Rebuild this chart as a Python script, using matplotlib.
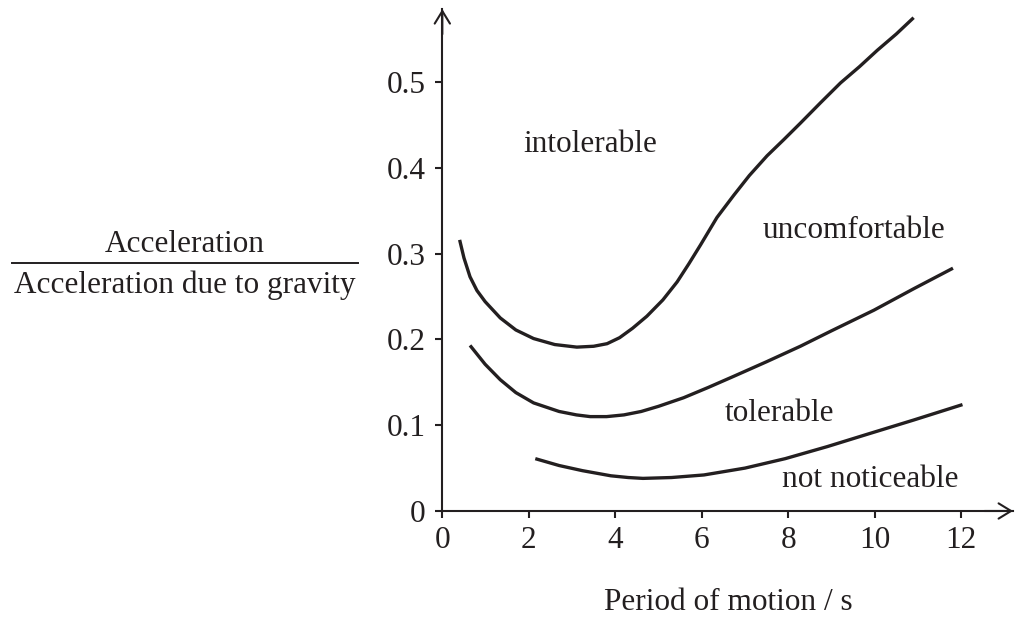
import matplotlib.pyplot as plt
from matplotlib.lines import Line2D

# values
# boundary intolerable / uncomfortable
period_upper = [0.40, 0.50, 0.64, 0.80, 0.99, 1.34, 1.70, 2.11, 2.60, 3.11, 3.50, 3.81, 4.10,
                4.40, 4.73, 5.10, 5.43, 5.70, 5.97, 6.35, 6.74, 7.10, 7.51, 7.90, 8.28,
                8.75, 9.21, 9.65, 10.06, 10.50, 10.90]
accel_upper = [0.316, 0.295, 0.273, 0.257, 0.244, 0.225, 0.211, 0.201, 0.194, 0.191, 0.192, 0.195, 0.202,
               0.213, 0.227, 0.246, 0.267, 0.288, 0.310, 0.342, 0.368, 0.391, 0.414, 0.433, 0.452,
               0.476, 0.499, 0.518, 0.537, 0.556, 0.575]

# boundary uncomfortable / tolerable
period_middle = [0.64, 0.99, 1.34, 1.70, 2.11, 2.70, 3.10, 3.42, 3.80, 4.20, 4.60, 5.00, 5.58,
                 6.15, 6.74, 7.50, 8.28, 9.00, 9.98, 10.90, 11.81]
accel_middle = [0.193, 0.171, 0.153, 0.138, 0.126, 0.116, 0.112, 0.110, 0.110, 0.112, 0.116, 0.122, 0.132,
                0.144, 0.157, 0.174, 0.192, 0.210, 0.234, 0.259, 0.283]

# boundary tolerable / not noticeable
period_lower = [2.15, 2.70, 3.24, 3.90, 4.30, 4.64, 5.30, 6.05, 7.00, 7.93, 8.90, 9.80, 10.90, 12.03]
accel_lower = [0.061, 0.053, 0.047, 0.041, 0.039, 0.038, 0.039, 0.042, 0.050, 0.061, 0.075, 0.089, 0.106, 0.124]

x_ticks = [0, 2, 4, 6, 8, 10, 12]
y_ticks = [0, 0.1, 0.2, 0.3, 0.4, 0.5]
y_tick_labels = ['0', '0.1', '0.2', '0.3', '0.4', '0.5']

zone_names = ['intolerable', 'uncomfortable', 'tolerable', 'not noticeable']
zone_x = [3.41, 9.53, 7.79, 9.89]
zone_y = [0.419, 0.318, 0.105, 0.028]

ink = '#231f20'
plt.rcParams['font.family'] = ['Liberation Serif', 'DejaVu Serif']
plt.rcParams['font.size'] = 22.5

fig = plt.figure(figsize=(10.15, 6.19), dpi=100)
ax = fig.add_axes([0.4358, 0.1745, 0.5623, 0.8108])
ax.set_xlim(0, 13.2)
ax.set_ylim(0, 0.585)

for curve_x, curve_y in [(period_upper, accel_upper), (period_middle, accel_middle),
                         (period_lower, accel_lower)]:
    ax.plot(curve_x, curve_y, color=ink, lw=2.4, solid_capstyle='butt', solid_joinstyle='round')

for name, tx, ty in zip(zone_names, zone_x, zone_y):
    ax.text(tx, ty, name, ha='center', va='baseline', color=ink)

# axes with open arrow heads
ax.spines['top'].set_visible(False)
ax.spines['right'].set_visible(False)
for side in ['left', 'bottom']:
    ax.spines[side].set_linewidth(1.5)
    ax.spines[side].set_color(ink)
arrow = dict(arrowstyle='->,head_length=0.9,head_width=0.55', lw=1.5, color=ink,
             shrinkA=0, shrinkB=0, mutation_scale=10)
ax.annotate('', xy=(0, 1), xytext=(0, 0.95), xycoords='axes fraction', arrowprops=arrow)
ax.annotate('', xy=(1, 0), xytext=(0.95, 0), xycoords='axes fraction', arrowprops=arrow)

ax.set_xticks(x_ticks)
ax.set_yticks(y_ticks)
ax.set_yticklabels(y_tick_labels)
ax.tick_params(axis='both', direction='out', length=5, width=1.5, colors=ink)
ax.tick_params(axis='x', pad=5.5)
ax.tick_params(axis='y', pad=7)

# x label
fig.text(728 / 1015, 1 - 610 / 619, 'Period of motion / s', ha='center', va='baseline', color=ink)

# y label as a fraction
fig.text(185 / 1015, 1 - 252 / 619, 'Acceleration', ha='center', va='baseline', color=ink)
fig.text(185 / 1015, 1 - 293.3 / 619, 'Acceleration due to gravity', ha='center', va='baseline', color=ink)
fig.add_artist(Line2D([12 / 1015, 358 / 1015], [1 - 262.7 / 619, 1 - 262.7 / 619],
                      transform=fig.transFigure, lw=1.4, color=ink))

fig.savefig('out.png', dpi=100)
